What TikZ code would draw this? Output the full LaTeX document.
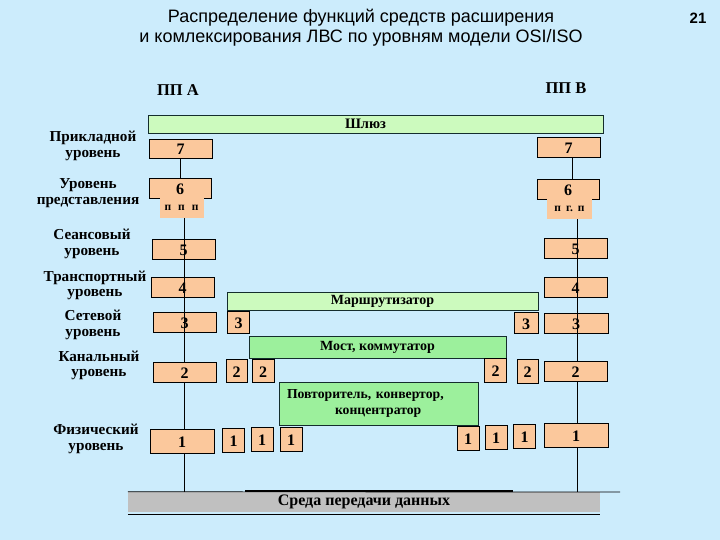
\documentclass[tikz,border=0pt]{standalone}
\usepackage{fontspec}
\setmainfont{Liberation Serif}
\newfontfamily\titlefont{Liberation Sans}
\definecolor{bg}{RGB}{204,236,252}
\definecolor{peach}{RGB}{251,200,156}
\definecolor{palegreen}{RGB}{204,250,190}
\definecolor{midgreen}{RGB}{156,240,156}
\definecolor{medgray}{RGB}{192,192,192}
\definecolor{edge}{RGB}{20,45,45}
\tikzset{
 ob/.style={draw=black, fill=peach, line width=0.7pt, inner sep=0pt,
   font=\bfseries\fontsize{16}{16}\selectfont, text height=13pt, text depth=0pt},
 bigbox/.style={ob, minimum width=63pt, minimum height=20pt},
 smbox/.style={ob, minimum width=22pt, minimum height=23pt},
 dev/.style={draw=edge, line width=0.7pt, inner sep=0pt, font=\bfseries\fontsize{14}{16}\selectfont},
 lvl/.style={align=center, font=\bfseries\fontsize{15.2}{15.5}\selectfont, inner sep=0pt},
 tabbox/.style={fill=peach, inner sep=0pt, minimum width=44pt, minimum height=20pt,
   font=\bfseries\fontsize{11.5}{11.5}\selectfont},
 conn/.style={draw=black, line width=0.7pt},
}
\begin{document}
\begin{tikzpicture}[x=1pt,y=-1pt]
\path[fill=bg] (0,0) rectangle (720,540);
\useasboundingbox (0,0) rectangle (720,540);

% title
\node[align=center, font=\titlefont\fontsize{18}{20}\selectfont] (title) at (361,28)
  {Распределение функций средств расширения\\и комлексирования ЛВС по уровням модели OSI/ISO};
\node[font=\titlefont\bfseries\fontsize{15}{15}\selectfont] (pnum) at (698,18) {21};

\node[font=\bfseries\fontsize{16.5}{16.5}\selectfont] (ppa) at (178,90) {ПП А};
\node[font=\bfseries\fontsize{16.5}{16.5}\selectfont] (ppb) at (566,88) {ПП В};

% level labels
\node[lvl] (l7) at (93,146) {Прикладной\\уровень};
\node[lvl] (l6) at (88,193) {Уровень\\представления};
\node[lvl] (l5) at (92,244) {Сеансовый\\уровень};
\node[lvl] (l4) at (95,285.5) {Транспортный\\уровень};
\node[lvl] (l3) at (93,325) {Сетевой\\уровень};
\node[lvl] (l2) at (99,365.5) {Канальный\\уровень};
\node[lvl] (l1) at (96,439) {Физический\\уровень};

% devices
\node[dev, fill=palegreen, minimum width=455pt, minimum height=18pt, font=\bfseries\fontsize{14.5}{14.5}\selectfont] (gw) at (375.5,124) {\hspace*{-20pt}Шлюз};
\node[dev, fill=palegreen, minimum width=311pt, minimum height=18pt, font=\bfseries\fontsize{14}{14}\selectfont] (rt) at (382.5,301) {Маршрутизатор};
\node[dev, fill=midgreen, minimum width=257pt, minimum height=22pt, font=\bfseries\fontsize{14}{14}\selectfont] (br) at (377.5,347) {Мост, коммутатор};
\node[dev, fill=midgreen, minimum width=199pt, minimum height=43pt, text width=183pt, inner xsep=8pt, align=left,
  font=\bfseries\fontsize{13.7}{16}\selectfont] (rep) at (378.5,403.5)
  {Повторитель, конвертор,\\\hspace*{48pt}концентратор};

% stack A
\node[bigbox, minimum height=19pt] (a7) at (180.5,148.5) {7};
\node[bigbox, minimum width=62pt] (a6) at (180,188) {6};
\node[tabbox] (a6t) at (181.5,208.2) {п\hspace{7pt}п\hspace{7pt}п};
\node[bigbox] (a5) at (183.5,249) {5};
\node[bigbox] (a4) at (182.5,287) {4};
\node[bigbox] (a3) at (184.5,322) {3};
\node[bigbox] (a2) at (184.5,372) {2};
\node[bigbox, minimum width=64pt, minimum height=24pt] (a1) at (182,441) {1};

% stack B
\node[bigbox] (b7) at (568.5,147) {7};
\node[bigbox, minimum width=62pt] (b6) at (568,189) {6};
\node[tabbox, minimum width=45pt] (b6t) at (569.5,209.2) {п\hspace{5pt}г.\hspace{5pt}п};
\node[bigbox] (b5) at (575.5,248) {5};
\node[bigbox] (b4) at (575.5,287) {4};
\node[bigbox, minimum width=64pt] (b3) at (576,323) {3};
\node[bigbox] (b2) at (575.5,371) {2};
\node[bigbox, minimum width=64pt, minimum height=24pt] (b1) at (576,435) {1};

% small boxes
\node[smbox, minimum height=22pt] (s3a) at (238.5,322) {3};
\node[smbox, minimum width=24pt, minimum height=21pt] (s3b) at (526,322.5) {3};
\node[smbox, minimum width=21pt] (s2a) at (236.5,371) {2};
\node[smbox] (s2b) at (263,370.5) {2};
\node[smbox, minimum height=24pt] (s2c) at (495.5,370) {2};
\node[smbox, minimum width=21pt, minimum height=24pt] (s2d) at (527.5,371) {2};
\node[smbox, minimum height=24pt] (s1a) at (233.5,440) {1};
\node[smbox, minimum height=24pt] (s1b) at (262,439) {1};
\node[smbox, minimum height=24pt] (s1c) at (291,439) {1};
\node[smbox, minimum height=24pt] (s1d) at (468,438) {1};
\node[smbox, minimum height=24pt] (s1e) at (496,437) {1};
\node[smbox, minimum height=24pt] (s1f) at (524.5,436) {1};

% medium
\node[fill=medgray, minimum width=472pt, minimum height=20pt, inner sep=0pt,
  font=\bfseries\fontsize{16}{16}\selectfont] (med) at (364,502) {Среда передачи данных};
\coordinate (medr) at (620,492);
\draw[conn] (med.north west) -- (medr);
\draw[conn] ([yshift=-2pt]med.south west) -- ([yshift=-2pt]med.south east);
\coordinate (thl) at (245,491);
\coordinate (thr) at (513,491);
\draw[black, line width=2pt] (thl) -- (thr);

% vertical lines
\coordinate (la) at (184,0);
\coordinate (lb) at (577,0);
\draw[conn] (a7.south) -- (a7.south |- a6.north);
\draw[conn] (a6t.south -| la) -- (a2.north -| la);
\draw[conn] (a2.south -| la) -- (a1.north -| la);
\draw[conn] (a1.south -| la) -- (la |- med.north);
\coordinate (lb7) at (572,0);
\draw[conn] (b7.south -| lb7) -- (b6.north -| lb7);
\draw[conn] (b6t.south -| lb) -- (b2.north -| lb);
\draw[conn] (b2.south -| lb) -- (b1.north -| lb);
\draw[conn] (b1.south -| lb) -- (lb |- med.north);
\end{tikzpicture}
\end{document}
